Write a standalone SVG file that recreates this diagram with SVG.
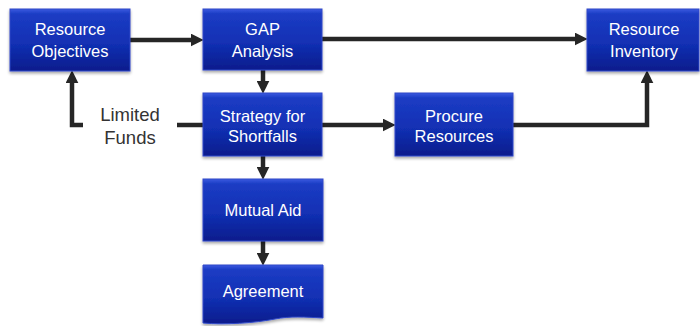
<svg xmlns="http://www.w3.org/2000/svg" width="700" height="326" viewBox="0 0 700 326">
<style>
.box{fill:url(#bg);stroke:#3048c8;stroke-width:1;filter:url(#sh)}
.t{font-family:"Liberation Sans",Arial,sans-serif;font-size:16.5px;fill:#ffffff;text-anchor:middle}
.lbl{font-family:"Liberation Sans",Arial,sans-serif;font-size:18.5px;fill:#333333;text-anchor:middle}
.c{fill:none;stroke:#262626;stroke-width:4.5}
.ca{fill:none;stroke:#262626;stroke-width:4.5;marker-end:url(#ah)}
</style>
<defs>
<linearGradient id="bg" x1="0" y1="0" x2="0" y2="1">
<stop offset="0" stop-color="#3a5ae0"/>
<stop offset="0.08" stop-color="#1c3cc4"/>
<stop offset="0.55" stop-color="#1230b4"/>
<stop offset="1" stop-color="#0a1c8c"/>
</linearGradient>
<filter id="sh" x="-10%" y="-10%" width="120%" height="130%">
<feGaussianBlur in="SourceAlpha" stdDeviation="1.5"/>
<feOffset dx="0" dy="2" result="b"/>
<feComponentTransfer><feFuncA type="linear" slope="0.35"/></feComponentTransfer>
<feMerge><feMergeNode/><feMergeNode in="SourceGraphic"/></feMerge>
</filter>
<marker id="ah" markerUnits="userSpaceOnUse" viewBox="0 0 12 12" markerWidth="13" markerHeight="13" refX="4" refY="6" orient="auto">
<path d="M0,0 L12,6 L0,12 z" fill="#262626"/>
</marker>
</defs>
<g id="connectors">
<path class="ca" d="M130,40 H195"/>
<path class="ca" d="M322,39 H579"/>
<path class="ca" d="M263,70 V85"/>
<path class="ca" d="M322,125 H387"/>
<path class="ca" d="M513,125 H647 V79"/>
<path class="ca" d="M263,156 V171"/>
<path class="ca" d="M263,241 V257"/>
<path class="c" d="M203,125 H177"/>
<path class="ca" d="M83,125 H72 V79"/>
</g>
<g id="limited-funds">
<text class="lbl" x="130" y="121">Limited</text>
<text class="lbl" x="130" y="144">Funds</text>
</g>
<g id="resource-objectives">
<rect class="box" x="10" y="9" width="120" height="62"/>
<text class="t" x="70" y="35">Resource</text>
<text class="t" x="70" y="57">Objectives</text>
</g>
<g id="gap-analysis">
<rect class="box" x="203" y="9" width="119" height="61"/>
<text class="t" x="262.5" y="35">GAP</text>
<text class="t" x="262.5" y="57">Analysis</text>
</g>
<g id="resource-inventory">
<rect class="box" x="587" y="9" width="112" height="62"/>
<text class="t" x="644" y="35">Resource</text>
<text class="t" x="644" y="57">Inventory</text>
</g>
<g id="strategy-for-shortfalls">
<rect class="box" x="203" y="93" width="119" height="63"/>
<text class="t" x="262.5" y="121.5">Strategy for</text>
<text class="t" x="262.5" y="142">Shortfalls</text>
</g>
<g id="procure-resources">
<rect class="box" x="395" y="93" width="118" height="63"/>
<text class="t" x="454" y="121.5">Procure</text>
<text class="t" x="454" y="142">Resources</text>
</g>
<g id="mutual-aid">
<rect class="box" x="203" y="179" width="120" height="62"/>
<text class="t" x="263" y="216">Mutual Aid</text>
</g>
<g id="agreement">
<path class="box" d="M203,265 H323 V318 C305,317 290,316 275,319 C255,323 225,325 203,323 Z"/>
<text class="t" x="263" y="297">Agreement</text>
</g>
</svg>
